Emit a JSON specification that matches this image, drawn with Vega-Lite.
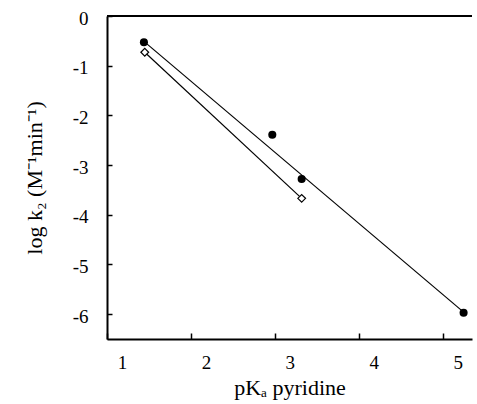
{
  "$schema": "https://vega.github.io/schema/vega-lite/v6.json",
  "width": 365,
  "height": 323,
  "autosize": {"type": "none"},
  "padding": {"left": 107, "top": 16, "right": 5, "bottom": 65},
  "background": "white",
  "config": {
    "view": {"stroke": null},
    "font": "Liberation Serif",
    "axis": {
      "grid": false,
      "domainColor": "black",
      "domainWidth": 2,
      "tickColor": "black",
      "tickWidth": 1.5,
      "labelColor": "black",
      "titleColor": "black",
      "labelFont": "Liberation Serif",
      "titleFont": "Liberation Serif",
      "labelFontSize": 19,
      "titleFontSize": 22,
      "titleFontWeight": "normal"
    }
  },
  "data": {
    "values": [
      {"pKa": 1.44, "logk2": -0.53, "series": "filled", "kind": "point"},
      {"pKa": 2.97, "logk2": -2.39, "series": "filled", "kind": "point"},
      {"pKa": 3.32, "logk2": -3.28, "series": "filled", "kind": "point"},
      {"pKa": 5.25, "logk2": -5.97, "series": "filled", "kind": "point"},
      {"pKa": 1.45, "logk2": -0.73, "series": "open", "kind": "point"},
      {"pKa": 3.32, "logk2": -3.67, "series": "open", "kind": "point"},
      {"pKa": 1.44, "logk2": -0.51, "series": "filled", "kind": "fit"},
      {"pKa": 5.25, "logk2": -5.96, "series": "filled", "kind": "fit"},
      {"pKa": 1.45, "logk2": -0.73, "series": "open", "kind": "fit"},
      {"pKa": 3.32, "logk2": -3.67, "series": "open", "kind": "fit"}
    ]
  },
  "layer": [
    {
      "transform": [{"filter": "datum.kind == 'fit'"}],
      "mark": {"type": "line", "color": "black", "strokeWidth": 1.2},
      "encoding": {
        "x": {
          "field": "pKa", "type": "quantitative",
          "scale": {"domain": [1, 5.35], "nice": false, "zero": false},
          "axis": {
            "title": "pKₐ pyridine",
            "values": [1, 2, 3, 4, 5],
            "tickSize": -6,
            "labelPadding": 20,
            "labelOffset": 15,
            "labelFlush": false,
            "labelExpr": "datum.value + ''",
            "titlePadding": 5
          }
        },
        "y": {
          "field": "logk2", "type": "quantitative",
          "scale": {"domain": [-6.5, 0], "nice": false, "zero": false},
          "axis": {
            "title": "log k₂ (M⁻¹min⁻¹)",
            "values": [0, -1, -2, -3, -4, -5, -6],
            "tickSize": -5,
            "labelPadding": 24,
            "labelOffset": 2,
            "labelFlush": false,
            "labelExpr": "datum.value + ''",
            "titlePadding": 26
          }
        },
        "detail": {"field": "series"}
      }
    },
    {
      "mark": {"type": "rule", "color": "black", "strokeWidth": 2},
      "encoding": {"y": {"datum": 0}}
    },
    {
      "transform": [{"filter": "datum.kind == 'point' && datum.series == 'filled'"}],
      "mark": {"type": "point", "shape": "circle", "filled": true, "color": "black", "opacity": 1, "size": 65},
      "encoding": {
        "x": {"field": "pKa", "type": "quantitative"},
        "y": {"field": "logk2", "type": "quantitative"}
      }
    },
    {
      "transform": [{"filter": "datum.kind == 'point' && datum.series == 'open'"}],
      "mark": {"type": "point", "shape": "diamond", "filled": true, "fill": "white", "stroke": "black", "strokeWidth": 1.2, "opacity": 1, "size": 60},
      "encoding": {
        "x": {"field": "pKa", "type": "quantitative"},
        "y": {"field": "logk2", "type": "quantitative"}
      }
    }
  ]
}
